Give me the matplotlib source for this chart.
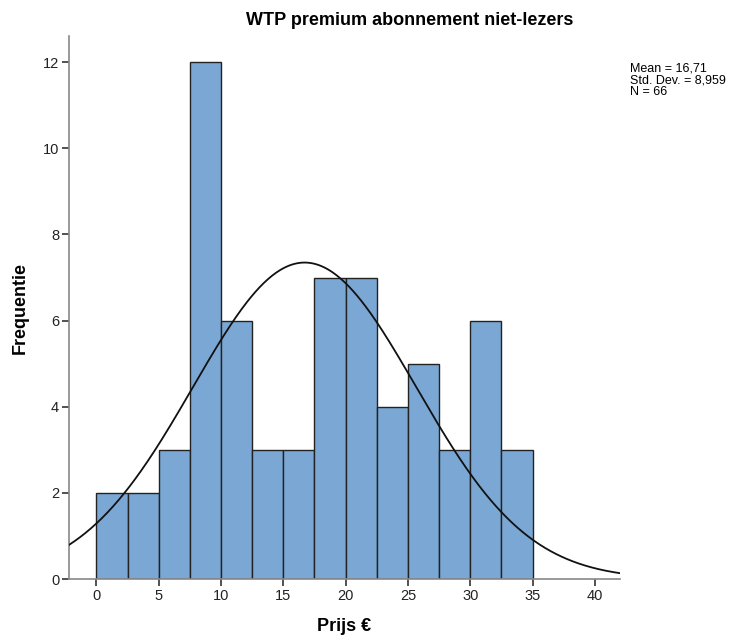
import numpy as np
import matplotlib
matplotlib.use('Agg')
import matplotlib.pyplot as plt

# histogram data (bin width 2.5)
bin_edges = [0, 2.5, 5, 7.5, 10, 12.5, 15, 17.5, 20, 22.5, 25, 27.5, 30, 32.5, 35]
counts = [2, 2, 3, 12, 6, 3, 3, 7, 7, 4, 5, 3, 6, 3]
mean = 16.71
std = 8.959
n = 66
x_ticks = [0, 5, 10, 15, 20, 25, 30, 35, 40]
y_ticks = [0, 2, 4, 6, 8, 10, 12]

plt.rcParams['font.family'] = ['Liberation Sans', 'DejaVu Sans']

fig = plt.figure(figsize=(7.44, 6.37), dpi=100)
ax = fig.add_axes([0.0927, 0.091, 0.7403, 0.852])

widths = np.diff(bin_edges)
ax.bar(bin_edges[:-1], counts, width=widths, align='edge',
       color='#7BA7D4', edgecolor='#222222', linewidth=1.0, zorder=2)

# normal curve scaled to counts
xx = np.linspace(-2.2, 42.0, 400)
yy = n * 2.5 / (std * np.sqrt(2 * np.pi)) * np.exp(-0.5 * ((xx - mean) / std) ** 2)
ax.plot(xx, yy, color='#111111', linewidth=1.3, zorder=3)

ax.set_xlim(-2.2, 42.0)
ax.set_ylim(0, 12.6)
ax.set_xticks(x_ticks)
ax.set_yticks(y_ticks)

tick_font = ['Liberation Sans Narrow', 'Liberation Sans', 'DejaVu Sans']
for lab in ax.get_xticklabels() + ax.get_yticklabels():
    lab.set_family(tick_font)
    lab.set_fontsize(10.5)
    lab.set_color('#222222')

for s in ['top', 'right']:
    ax.spines[s].set_visible(False)
ax.spines['left'].set_color('#888888')
ax.spines['bottom'].set_color('#888888')
ax.spines['left'].set_linewidth(1.2)
ax.spines['bottom'].set_linewidth(1.2)
ax.tick_params(axis='both', direction='out', length=5, width=1.2, color='#333333', pad=2)

ax.set_xlabel('Prijs €', fontsize=13, fontweight='bold', labelpad=11)
ax.set_ylabel('Frequentie', fontsize=13, fontweight='bold', labelpad=10)
fig.text(0.551, 0.968, 'WTP premium abonnement niet-lezers', ha='center', va='center',
         fontsize=13, fontweight='bold')

fig.text(0.847, 0.902, 'Mean = 16,71\nStd. Dev. = 8,959\nN = 66', ha='left', va='top',
         fontsize=9, linespacing=0.98)

fig.savefig('out.png', dpi=100)
